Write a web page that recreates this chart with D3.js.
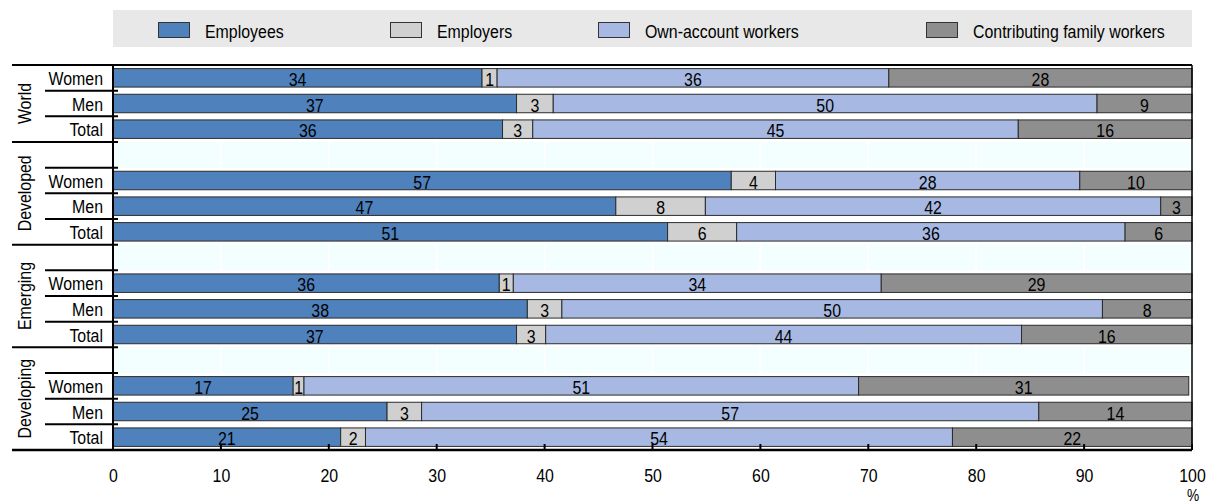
<!DOCTYPE html>
<html><head><meta charset="utf-8">
<script src="https://cdn.jsdelivr.net/npm/d3@7"></script>
<style>
body{margin:0;background:#fff;}
text{font-family:"Liberation Sans",Arial,sans-serif;fill:#000;}
</style></head>
<body><svg id="c" width="1207" height="504"></svg>
<script>
const groups = ["World","Developed","Emerging","Developing"];
const rowLabels = ["Women","Men","Total"];
const seriesNames = ["Employees","Employers","Own-account workers","Contributing family workers"];
// values in order: World W/M/T, Developed W/M/T, Emerging W/M/T, Developing W/M/T
const employees  = [34.2,37.4,36.1, 57.3,46.6,51.4, 35.8,38.4,37.4, 16.7,25.4,21.1];
const employers  = [1.4,3.4,2.8,    4.1,8.3,6.4,    1.3,3.2,2.7,    1.0,3.2,2.3];
const ownAccount = [36.3,50.4,45.0, 28.2,42.2,36.0, 34.1,50.1,44.1, 51.4,57.2,54.4];
const family     = [28.1,8.8,16.1,  10.4,2.9,6.2,   28.8,8.3,15.8,  30.6,14.2,22.2];
const xTicks = [0,10,20,30,40,50,60,70,80,90,100];
const colors = ["#4f81bd","#d0d0d0","#a7b9e3","#8e8e8e"];

const svg = d3.select("#c");
const L = 113, R = 1192, T = 65, B = 450;
const FS = 18.5, SX = 0.86;

// condensed text helper: horizontal compression around the anchor point
function narrowText(g, x, y, txt, anchor, fs){
  return g.append("text").attr("transform",`translate(${x},${y}) scale(${SX},1)`)
    .attr("text-anchor",anchor||"start").attr("font-size",fs||FS).text(txt);
}

const rows = [];
groups.forEach((g,gi)=>{
  if(gi>0) rows.push({key:g+"_blank", blank:true, group:g});
  rowLabels.forEach((r,ri)=>{
    const i = gi*3+ri;
    rows.push({key:g+"_"+r, group:g, label:r, vals:[employees[i],employers[i],ownAccount[i],family[i]]});
  });
});

const x = d3.scaleLinear().domain([0,100]).range([L,R]);
const y = d3.scaleBand().domain(rows.map(d=>d.key)).range([T,B]).padding(0);
const bw = y.bandwidth();
const barH = bw*0.72;
const color = d3.scaleOrdinal().domain(seriesNames).range(colors);

// legend
svg.append("rect").attr("x",113).attr("y",10).attr("width",1079).attr("height",37).attr("fill","#e8e8e8");
const legX = [158,390,598,926];
seriesNames.forEach((s,i)=>{
  svg.append("rect").attr("x",legX[i]+0.5).attr("y",22.5).attr("width",31).attr("height",15)
    .attr("fill",color(s)).attr("stroke","#333").attr("stroke-width",1);
  narrowText(svg, legX[i]+47, 38, s, "start");
});

// plot background
svg.append("rect").attr("x",L).attr("y",T).attr("width",R-L).attr("height",B-T).attr("fill","#f3fefe");
svg.selectAll(".grid").data(xTicks.slice(1,-1)).join("line")
  .attr("x1",d=>x(d)).attr("x2",d=>x(d)).attr("y1",T).attr("y2",B)
  .attr("stroke","#ffffff").attr("stroke-width",2);
svg.selectAll(".rowbg").data(rows.filter(d=>!d.blank)).join("rect")
  .attr("x",L).attr("width",R-L).attr("y",d=>y(d.key)).attr("height",bw).attr("fill","#ffffff");

// bars
const dataRows = rows.filter(d=>!d.blank);
dataRows.forEach(r=>{
  let acc = 0;
  const by = y(r.key) + (bw-barH)/2;
  r.vals.forEach((v,si)=>{
    const x0 = x(acc), x1 = x(acc+v);
    svg.append("rect").attr("x",x0).attr("y",by).attr("width",x1-x0).attr("height",barH)
      .attr("fill",colors[si]).attr("stroke","#2b2b2b").attr("stroke-width",1);
    narrowText(svg, (x0+x1)/2, y(r.key)+bw/2+8, Math.round(v), "middle");
    acc += v;
  });
});

// frame lines
svg.append("line").attr("x1",12).attr("x2",R).attr("y1",T).attr("y2",T).attr("stroke","#000").attr("stroke-width",2);
svg.append("line").attr("x1",12).attr("x2",R).attr("y1",B).attr("y2",B).attr("stroke","#000").attr("stroke-width",2.5);
svg.append("line").attr("x1",L).attr("x2",L).attr("y1",T).attr("y2",B).attr("stroke","#000").attr("stroke-width",2);
svg.append("line").attr("x1",R).attr("x2",R).attr("y1",T).attr("y2",B).attr("stroke","#000").attr("stroke-width",1.5);

// row separators
rows.forEach((r,i)=>{
  if(i===0) return;
  const yy = y(r.key);
  svg.append("line").attr("x1",r.blank?12:45).attr("x2",L+5).attr("y1",yy).attr("y2",yy)
    .attr("stroke","#000").attr("stroke-width",2);
});

// row labels
dataRows.forEach(d=>narrowText(svg, 103, y(d.key)+bw/2+7, d.label, "end"));

// group labels
groups.forEach(g=>{
  const gr = rows.filter(r=>r.group===g);
  const y0 = y(gr[0].key), y1 = y(gr[gr.length-1].key)+bw;
  svg.append("text").attr("transform",`translate(31,${(y0+y1)/2}) rotate(-90) scale(${SX},1)`)
    .attr("text-anchor","middle").attr("font-size",FS).text(g);
});

// x axis
const xAxis = d3.axisBottom(x).tickValues(xTicks).tickSize(0).tickPadding(0).tickFormat(d3.format("d"));
const ax = svg.append("g").attr("transform",`translate(0,${B})`).call(xAxis);
ax.select(".domain").remove();
ax.selectAll("text").attr("font-size",FS).attr("dy",null).attr("y",null)
  .attr("transform",`translate(0,32) scale(${SX},1)`).style("font-family",null);
svg.selectAll(".tk").data(xTicks).join("line")
  .attr("x1",d=>x(d)).attr("x2",d=>x(d)).attr("y1",B-6).attr("y2",B)
  .attr("stroke","#000").attr("stroke-width",2);
narrowText(svg, 1193, 501, "%", "middle", 16);
</script></body></html>
